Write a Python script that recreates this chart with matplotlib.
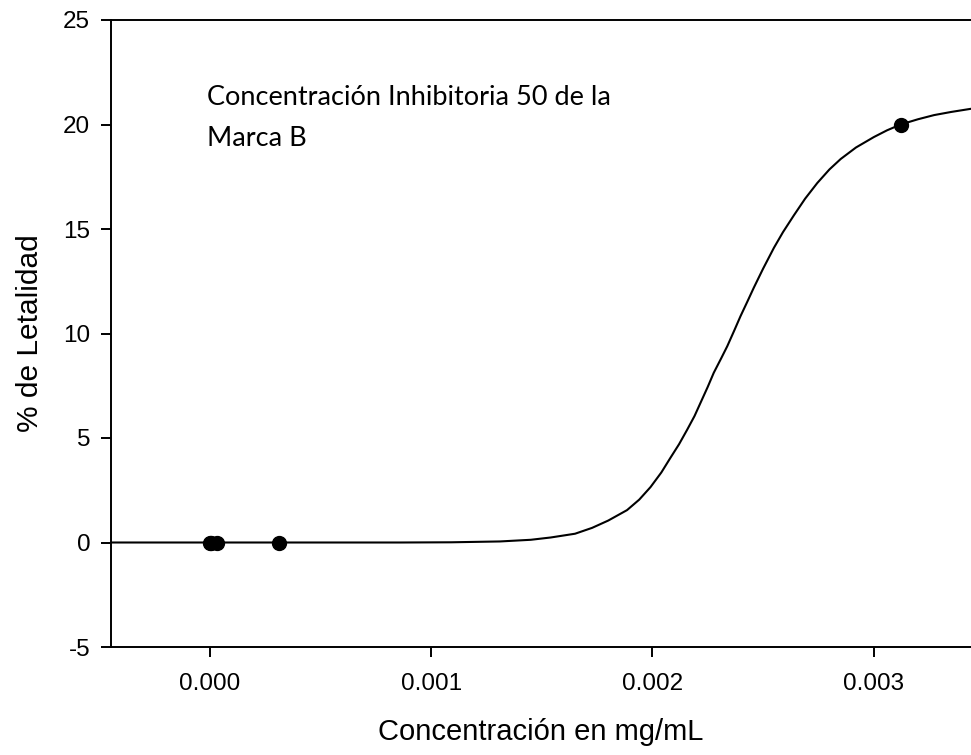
import matplotlib
matplotlib.use("Agg")
import matplotlib.pyplot as plt

# Observed data points
conc = [3.125e-7, 3.125e-6, 3.125e-5, 3.125e-4, 3.125e-3]
letalidad = [0, 0, 0, 0, 20]

# Fitted curve
curve_x = [-0.00045, 0.0, 0.0005, 0.00086, 0.00109, 0.00131, 0.00145, 0.00154,
           0.00165, 0.001727, 0.00180, 0.001885, 0.00194, 0.001991, 0.00204,
           0.002081, 0.00212, 0.002157, 0.00219, 0.002217, 0.00225, 0.002277,
           0.00231, 0.002338, 0.00237, 0.002398, 0.00243, 0.002458, 0.0025,
           0.002549, 0.00259, 0.002639, 0.00269, 0.002745, 0.0028, 0.002851,
           0.00292, 0.003001, 0.00306, 0.003122, 0.0032, 0.003273, 0.00335,
           0.003439]
curve_y = [0.0, 0.0, 0.0, 0.0, 0.01, 0.05, 0.13, 0.24,
           0.42, 0.70, 1.05, 1.55, 2.05, 2.65, 3.35,
           4.05, 4.70, 5.40, 6.05, 6.68, 7.45, 8.12,
           8.80, 9.39, 10.15, 10.83, 11.55, 12.19, 13.1,
           14.1, 14.85, 15.65, 16.45, 17.2, 17.85, 18.35,
           18.9, 19.4, 19.72, 20.0, 20.25, 20.45, 20.6,
           20.75]

xticks = [0.000, 0.001, 0.002, 0.003]
xtick_labels = ["0.000", "0.001", "0.002", "0.003"]
yticks = [-5, 0, 5, 10, 15, 20, 25]

plt.rcParams['font.family'] = ['Liberation Sans', 'DejaVu Sans']
plt.rcParams['axes.unicode_minus'] = False

fig = plt.figure(figsize=(9.71, 7.55), dpi=100)
ax = fig.add_axes([111/971, 108/755, 860/971, 627/755])

ax.plot(curve_x, curve_y, color='black', lw=1.5, zorder=2,
        solid_joinstyle='round')
ax.plot(conc, letalidad, 'o', color='black', markersize=10, zorder=3)

ax.set_xlim(-0.000448, 0.00344)
ax.set_ylim(-5, 25)
ax.set_xticks(xticks)
ax.set_xticklabels(xtick_labels)
ax.set_yticks(yticks)

for s in ['left', 'top', 'bottom']:
    ax.spines[s].set_linewidth(1.4)
ax.spines['right'].set_visible(False)

ax.tick_params(direction='out', length=7, width=1.4, labelsize=17.5, pad=8)
ax.tick_params(axis='x', pad=12)

ax.set_xlabel("Concentración en mg/mL", fontsize=21, labelpad=16)
ax.set_ylabel("% de Letalidad", fontsize=21.5, labelpad=14)

ax.text(207/971, 1 - 85/755, "Concentración Inhibitoria 50 de la\nMarca B",
        transform=fig.transFigure, fontsize=19.5, family=['Lato', 'DejaVu Sans'],
        va='top', ha='left', linespacing=1.78)

fig.savefig("out.png", dpi=100)
